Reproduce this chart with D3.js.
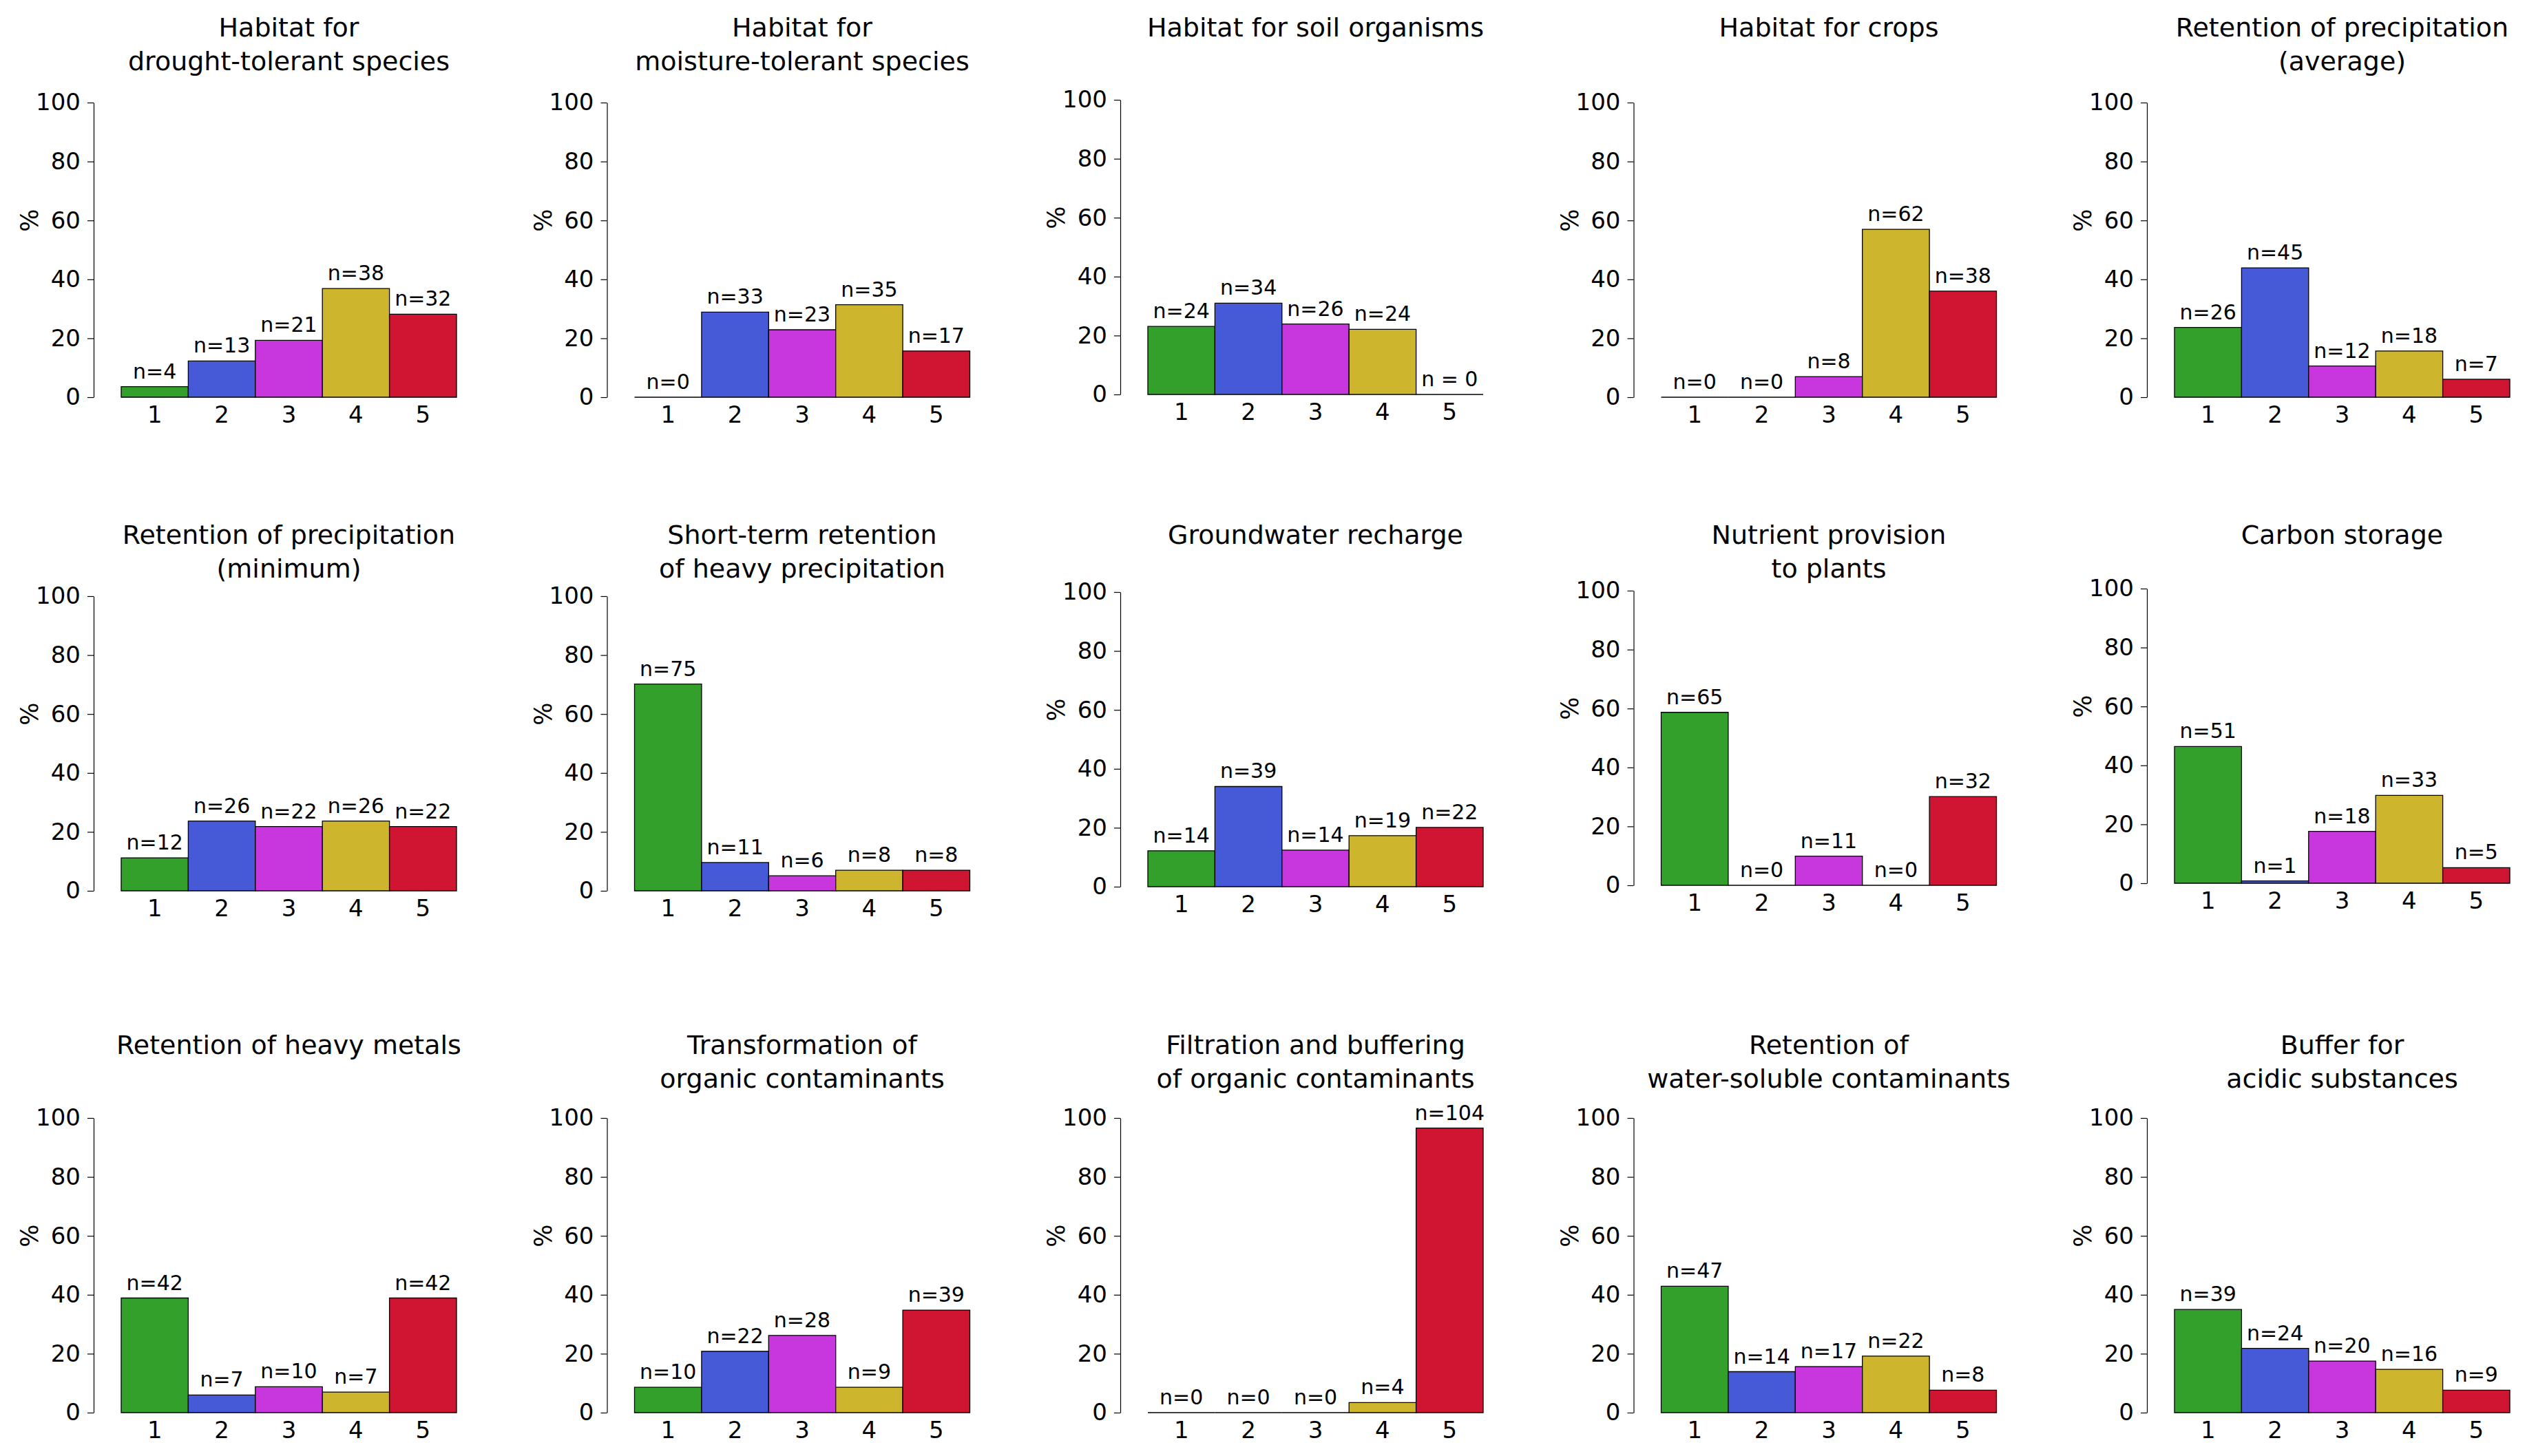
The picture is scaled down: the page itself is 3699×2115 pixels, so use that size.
<!DOCTYPE html>
<html>
<head>
<meta charset="utf-8">
<script src="https://cdn.jsdelivr.net/npm/d3@7"></script>
<style>
  body { margin: 0; background: #fff; }
  text { font-family: "DejaVu Sans", sans-serif; }
</style>
</head>
<body>
<script>
// rating classes on the x axis
var categories = [1, 2, 3, 4, 5];
var barColors = ["#33a02c", "#4659d7", "#c837de", "#cdb52d", "#d01532"];

var titles = [
  "Habitat for\ndrought-tolerant species",
  "Habitat for\nmoisture-tolerant species",
  "Habitat for soil organisms",
  "Habitat for crops",
  "Retention of precipitation\n(average)",
  "Retention of precipitation\n(minimum)",
  "Short-term retention\nof heavy precipitation",
  "Groundwater recharge",
  "Nutrient provision\nto plants",
  "Carbon storage",
  "Retention of heavy metals",
  "Transformation of\norganic contaminants",
  "Filtration and buffering\nof organic contaminants",
  "Retention of\nwater-soluble contaminants",
  "Buffer for\nacidic substances"
];

// share of sites per class (%)
var percents = [
  [3.6, 12.3, 19.3, 36.9, 28.2],
  [0, 28.9, 22.9, 31.4, 15.7],
  [23.1, 31.0, 23.9, 22.1, 0],
  [0, 0, 7.0, 57.0, 36.0],
  [23.7, 43.9, 10.6, 15.7, 6.1],
  [11.2, 23.7, 21.8, 23.7, 21.8],
  [70.2, 9.6, 5.1, 7.0, 7.0],
  [12.2, 34.0, 12.4, 17.3, 20.1],
  [58.7, 0, 9.9, 0, 30.1],
  [46.4, 0.8, 17.6, 29.8, 5.3],
  [38.9, 6.0, 8.8, 7.0, 38.9],
  [8.6, 20.8, 26.2, 8.6, 34.8],
  [0, 0, 0, 3.4, 96.6],
  [42.9, 13.9, 15.6, 19.2, 7.6],
  [35.0, 21.8, 17.5, 14.7, 7.6]
];

// labels above the bars
var nLabels = [
  ["n=4", "n=13", "n=21", "n=38", "n=32"],
  ["n=0", "n=33", "n=23", "n=35", "n=17"],
  ["n=24", "n=34", "n=26", "n=24", "n = 0"],
  ["n=0", "n=0", "n=8", "n=62", "n=38"],
  ["n=26", "n=45", "n=12", "n=18", "n=7"],
  ["n=12", "n=26", "n=22", "n=26", "n=22"],
  ["n=75", "n=11", "n=6", "n=8", "n=8"],
  ["n=14", "n=39", "n=14", "n=19", "n=22"],
  ["n=65", "n=0", "n=11", "n=0", "n=32"],
  ["n=51", "n=1", "n=18", "n=33", "n=5"],
  ["n=42", "n=7", "n=10", "n=7", "n=42"],
  ["n=10", "n=22", "n=28", "n=9", "n=39"],
  ["n=0", "n=0", "n=0", "n=4", "n=104"],
  ["n=47", "n=14", "n=17", "n=22", "n=8"],
  ["n=39", "n=24", "n=20", "n=16", "n=9"]
];

var yTicks = [0, 20, 40, 60, 80, 100];

var width = 3699, height = 2115;
// baseline of the zero line for each panel (rows of the grid)
var zeroY = [
  [577, 577, 573, 577, 577],
  [1294, 1294, 1288, 1286, 1283],
  [2052, 2052, 2052, 2052, 2052]
];
var titleY = [53, 790, 1531];

var svg = d3.select("body").append("svg")
  .attr("width", width)
  .attr("height", height)
  .style("background", "#fff");

titles.forEach(function (title, k) {
  var r = Math.floor(k / 5), c = k % 5;
  var ax = 136 + c * 745.5;   // y axis position
  var y0 = zeroY[r][c];

  var x = d3.scaleBand()
    .domain(categories)
    .range([ax + 40, ax + 527])
    .padding(0);

  var y = d3.scaleLinear()
    .domain([0, 100])
    .range([y0, y0 - 428]);

  var g = svg.append("g");

  // y axis
  var yAxis = g.append("g")
    .attr("transform", "translate(" + ax + ",0)")
    .call(d3.axisLeft(y).tickValues(yTicks).tickSize(9).tickSizeOuter(0).tickPadding(10));
  yAxis.selectAll("text")
    .attr("font-family", "DejaVu Sans")
    .attr("font-size", 34)
    .attr("fill", "#000");
  yAxis.selectAll("line, path").attr("stroke", "#000").attr("stroke-width", 1.2);

  g.append("text")
    .attr("transform", "translate(" + (ax - 93) + "," + y(60) + ") rotate(-90)")
    .attr("text-anchor", "middle")
    .attr("dy", "0.35em")
    .attr("font-size", 35)
    .text("%");

  // bars (drawn as paths so that empty classes still show a base line)
  g.selectAll("path.bar")
    .data(categories)
    .join("path")
    .attr("class", "bar")
    .attr("d", function (d, i) {
      var x0 = x(d), x1 = x0 + x.bandwidth();
      var yb = y(0), yt = y(percents[k][i]);
      return "M" + x0 + "," + yb + "V" + yt + "H" + x1 + "V" + yb + "Z";
    })
    .attr("fill", function (d, i) { return barColors[i]; })
    .attr("stroke", "#000")
    .attr("stroke-width", 1.3);

  g.selectAll("text.nlab")
    .data(categories)
    .join("text")
    .attr("class", "nlab")
    .attr("x", function (d) { return x(d) + x.bandwidth() / 2; })
    .attr("y", function (d, i) { return y(percents[k][i]) - 12; })
    .attr("text-anchor", "middle")
    .attr("font-size", 30)
    .text(function (d, i) { return nLabels[k][i]; });

  g.selectAll("text.xlab")
    .data(categories)
    .join("text")
    .attr("class", "xlab")
    .attr("x", function (d) { return x(d) + x.bandwidth() / 2; })
    .attr("y", y0 + 37)
    .attr("text-anchor", "middle")
    .attr("font-size", 34)
    .text(function (d) { return d; });

  // title, one or two lines
  var cx = ax + 40 + 487 / 2;
  title.split("\n").forEach(function (line, j) {
    g.append("text")
      .attr("x", cx)
      .attr("y", titleY[r] + j * 49)
      .attr("text-anchor", "middle")
      .attr("font-size", 38)
      .text(line);
  });
});
</script>
</body>
</html>
